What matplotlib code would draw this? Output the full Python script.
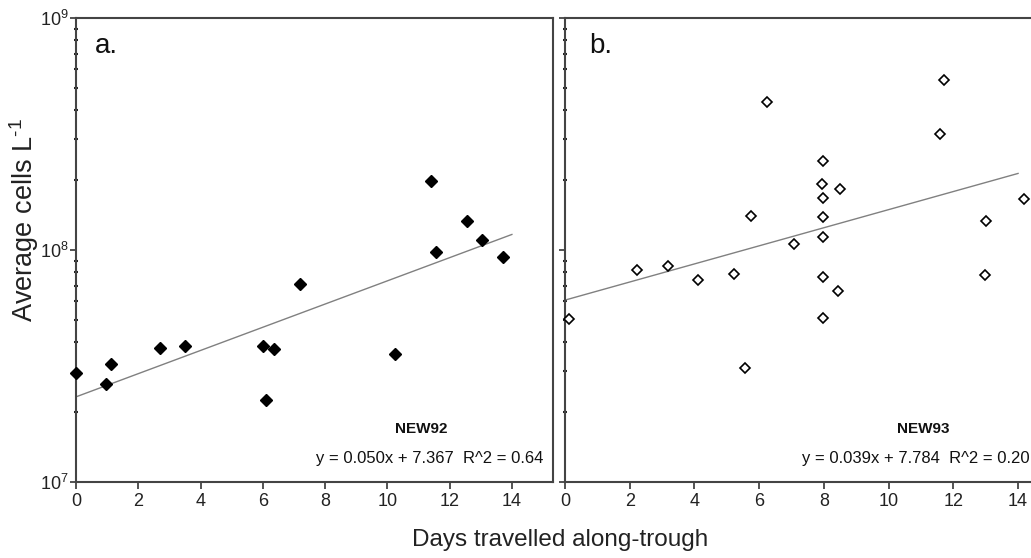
import matplotlib.pyplot as plt
from matplotlib.ticker import LogLocator, NullFormatter
import numpy as np

plt.rcParams["font.family"] = ["Liberation Sans", "DejaVu Sans"]
plt.rcParams["mathtext.fontset"] = "custom"
plt.rcParams["mathtext.rm"] = "Liberation Sans"

# NEW92 (panel a)
days_92 = [0.0, 0.95, 1.13, 2.71, 3.50, 6.00, 6.35, 6.11, 7.19, 10.23, 11.41, 11.57, 12.57, 13.04, 13.72]
cells_92 = [2.94e7, 2.64e7, 3.23e7, 3.79e7, 3.85e7, 3.85e7, 3.76e7, 2.26e7, 7.13e7, 3.55e7,
            1.99e8, 9.8e7, 1.34e8, 1.10e8, 9.35e7]
fit_92 = (0.050, 7.367)
eq_92 = "y = 0.050x + 7.367  R^2 = 0.64"

# NEW93 (panel b)
days_93 = [0.12, 2.21, 3.17, 4.12, 5.21, 5.57, 5.74, 6.24, 7.07, 7.96, 7.93, 7.96, 7.96, 7.98,
           7.96, 7.96, 8.50, 8.44, 11.70, 11.60, 13.0, 12.97, 14.18]
cells_93 = [5.05e7, 8.2e7, 8.55e7, 7.43e7, 7.85e7, 3.1e7, 1.40e8, 4.36e8, 1.06e8, 2.41e8, 1.92e8,
            1.68e8, 1.39e8, 1.14e8, 7.67e7, 5.1e7, 1.83e8, 6.64e7, 5.38e8, 3.16e8, 1.34e8, 7.8e7, 1.66e8]
fit_93 = (0.039, 7.784)
eq_93 = "y = 0.039x + 7.784  R^2 = 0.20"

fig = plt.figure(figsize=(10.31, 5.58), dpi=100)
W, H = 1031, 558
ax1 = fig.add_axes([76 / W, 1 - 482 / H, 477 / W, 464 / H])
ax2 = fig.add_axes([565 / W, 1 - 482 / H, 466 / W, 464 / H])

spine_col = "#444444"
for ax, xmax in ((ax1, 15.32), (ax2, 14.4)):
    ax.set_yscale("log")
    ax.set_ylim(1e7, 1e9)
    ax.set_xlim(0, xmax)
    ax.set_xticks(range(0, 15, 2))
    ax.yaxis.set_major_locator(LogLocator(base=10, numticks=5))
    ax.yaxis.set_minor_locator(LogLocator(base=10, subs=np.arange(2, 10), numticks=20))
    ax.yaxis.set_minor_formatter(NullFormatter())
    for s in ax.spines.values():
        s.set_color(spine_col)
        s.set_linewidth(1.5)
    ax.tick_params(axis="both", which="major", direction="out", length=5, width=1.3,
                   color=spine_col, labelsize=13, pad=3, labelcolor="#222222")
    ax.tick_params(axis="y", which="minor", direction="inout", length=3, width=1.5, color="#222222")
    ax.tick_params(axis="y", which="major", labelsize=13, pad=1, length=4)

ax2.spines["right"].set_visible(False)
ax2.tick_params(axis="y", which="both", labelleft=False)

# panel a
ax1.plot(days_92, cells_92, linestyle="none", marker="D", markersize=6.3,
         color="black", zorder=3, clip_on=False)
xf = np.array([0, 14])
ax1.plot(xf, 10 ** (fit_92[1] + fit_92[0] * xf), color="#808080", linewidth=1)
ax1.text(0.04, 0.925, "a.", transform=ax1.transAxes, fontsize=20, color="#111111")
ax1.text(0.723, 0.105, "NEW92", transform=ax1.transAxes, fontsize=11,
         fontweight="bold", ha="center", color="#111111")
ax1.text(0.979, 0.041, eq_92, transform=ax1.transAxes, fontsize=12, ha="right", color="#111111")

# panel b
ax2.plot(days_93, cells_93, linestyle="none", marker="D", markersize=5.2,
         markerfacecolor="white", markeredgecolor="black", markeredgewidth=1.2,
         zorder=3, clip_on=False)
ax2.plot(xf, 10 ** (fit_93[1] + fit_93[0] * xf), color="#808080", linewidth=1)
ax2.text(0.0515, 0.925, "b.", transform=ax2.transAxes, fontsize=20, color="#111111")
ax2.text(0.768, 0.105, "NEW93", transform=ax2.transAxes, fontsize=11,
         fontweight="bold", ha="center", color="#111111")
ax2.text(0.998, 0.041, eq_93, transform=ax2.transAxes, fontsize=12, ha="right", color="#111111")

fig.text(24 / W, 1 - 220 / H, "Average cells L$^{\u20101}$", rotation=90,
         fontsize=19.5, ha="center", va="center", color="#222222")
fig.text(560 / W, 1 - 540 / H, "Days travelled along-trough", fontsize=17.5,
         ha="center", va="center", color="#222222")

fig.savefig("out.png", dpi=100)
